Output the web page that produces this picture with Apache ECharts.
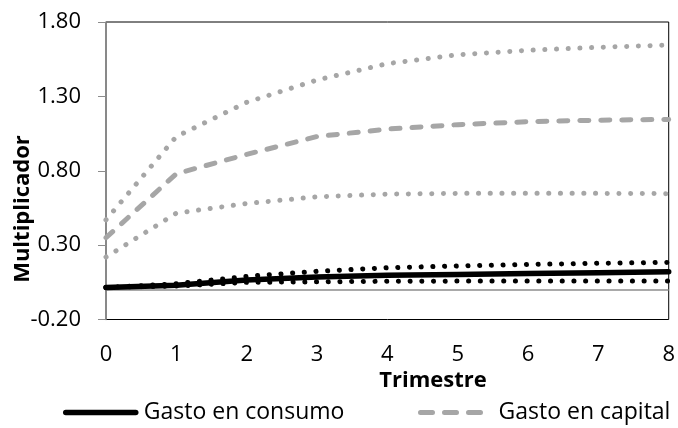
<!DOCTYPE html>
<html><head><meta charset="utf-8">
<script src="https://cdn.jsdelivr.net/npm/echarts@6/dist/echarts.min.js"></script>
<style>html,body{margin:0;padding:0;background:#fff}#c{width:678px;height:428px}</style>
</head><body><div id="c"></div>
<script>
// ---- data ----
const quarters = [0, 1, 2, 3, 4, 5, 6, 7, 8];
const yTickValues = [-0.2, 0.3, 0.8, 1.3, 1.8];
const gastoCapital      = [0.35, 0.78, 0.91, 1.03, 1.08, 1.11, 1.13, 1.14, 1.145];
const gastoCapitalSup   = [0.47, 1.03, 1.26, 1.41, 1.52, 1.58, 1.61, 1.63, 1.645];
const gastoCapitalInf   = [0.22, 0.515, 0.58, 0.625, 0.643, 0.648, 0.648, 0.648, 0.646];
const gastoConsumo      = [0.015, 0.03, 0.065, 0.085, 0.097, 0.103, 0.109, 0.115, 0.121];
const gastoConsumoSup   = [0.015, 0.04, 0.09, 0.124, 0.148, 0.160, 0.170, 0.178, 0.184];
const gastoConsumoInf   = [0.015, 0.025, 0.05, 0.053, 0.057, 0.058, 0.058, 0.058, 0.058];
const legendNames = ['Gasto en consumo', 'Gasto en capital'];
const xTitle = 'Trimestre';
const yTitle = 'Multiplicador';

const FONT = '"Open Sans"';
const GRAY = '#A6A6A6';
const AXIS_GRAY = '#8C8C8C';
const DOT = [0.1, 11.6];
const pairs = arr => arr.map((v, i) => [quarters[i], v]);

const chart = echarts.init(document.getElementById('c'), null, { renderer: 'canvas' });
chart.setOption({
  animation: false,
  backgroundColor: '#fff',
  textStyle: { fontFamily: FONT },
  grid: { left: 106, right: 9, top: 22, bottom: 108.5, show: true, borderColor: '#000', borderWidth: 1, containLabel: false },
  xAxis: {
    type: 'value', min: quarters[0], max: quarters[quarters.length - 1], interval: 1,
    axisLine: { show: false, onZero: false }, axisTick: { show: false }, splitLine: { show: false },
    axisLabel: { margin: 24, fontSize: 22, color: '#000', fontFamily: FONT }
  },
  yAxis: {
    type: 'value', min: yTickValues[0], max: yTickValues[yTickValues.length - 1], interval: 0.5,
    axisLine: { show: true, onZero: false, lineStyle: { color: AXIS_GRAY, width: 1.5 } },
    axisTick: { show: true, length: 8, lineStyle: { color: AXIS_GRAY, width: 1 } },
    splitLine: { show: false },
    axisLabel: { margin: 25, fontSize: 22, color: '#000', fontFamily: FONT, formatter: v => v.toFixed(2) }
  },
  graphic: [
    { type: 'text', x: 433, y: 381, style: { text: xTitle, font: 'bold 22px ' + FONT, fill: '#000', textAlign: 'center', textVerticalAlign: 'middle' } },
    { type: 'text', x: 23, y: 209, rotation: Math.PI / 2, style: { text: yTitle, font: 'bold 22px ' + FONT, fill: '#000', textAlign: 'center', textVerticalAlign: 'middle' } }
  ],
  legend: [
    { data: [legendNames[0]], left: 63, top: 401, padding: 0, itemWidth: 70, itemHeight: 3, selectedMode: false,
      itemStyle: { opacity: 0 }, lineStyle: { width: 5.5, cap: 'round' },
      textStyle: { fontSize: 23, color: '#000', fontFamily: FONT, padding: [0, 0, 0, 3] } },
    { data: [legendNames[1]], left: 418, top: 401, padding: 0, itemWidth: 65, itemHeight: 3, selectedMode: false,
      itemStyle: { opacity: 0 }, lineStyle: { width: 5, cap: 'round', type: [12, 12] },
      textStyle: { fontSize: 23, color: '#000', fontFamily: FONT, padding: [0, 0, 0, 8] } }
  ],
  series: [
    { name: 'capInf', type: 'line', data: pairs(gastoCapitalInf), symbol: 'none', z: 2,
      lineStyle: { color: GRAY, width: 5, type: DOT, cap: 'round' },
      markLine: { silent: true, symbol: 'none', label: { show: false },
        lineStyle: { color: AXIS_GRAY, width: 1.5, type: 'solid' }, data: [{ yAxis: 0 }] } },
    { name: 'capSup', type: 'line', data: pairs(gastoCapitalSup), symbol: 'none', z: 2,
      lineStyle: { color: GRAY, width: 5, type: DOT, cap: 'round' } },
    { name: legendNames[1], type: 'line', data: pairs(gastoCapital), symbol: 'none', z: 3, color: GRAY,
      lineStyle: { color: GRAY, width: 5, type: [9, 12], cap: 'round' } },
    { name: 'consInf', type: 'line', data: pairs(gastoConsumoInf), symbol: 'none', z: 4,
      lineStyle: { color: '#000', width: 5, type: DOT, cap: 'round' } },
    { name: 'consSup', type: 'line', data: pairs(gastoConsumoSup), symbol: 'none', z: 4,
      lineStyle: { color: '#000', width: 5, type: DOT, cap: 'round' } },
    { name: legendNames[0], type: 'line', data: pairs(gastoConsumo), symbol: 'none', z: 5, color: '#000',
      lineStyle: { color: '#000', width: 5.5, type: 'solid', cap: 'round' } }
  ]
});
</script>
</body></html>
